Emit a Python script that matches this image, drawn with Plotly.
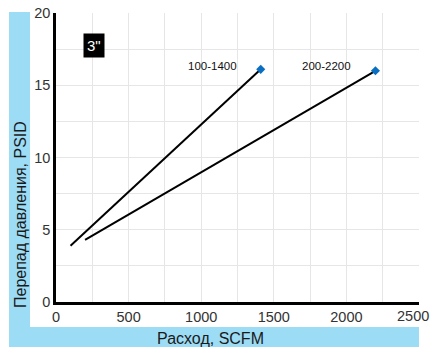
import plotly.graph_objects as go

# Pressure drop vs. flow for two 3" models
series_names = ["100-1400", "200-2200"]
flow_100_1400 = [100, 1410]
psid_100_1400 = [3.9, 16.1]
flow_200_2200 = [200, 2200]
psid_200_2200 = [4.3, 16.0]

x_ticks = [0, 500, 1000, 1500, 2000, 2500]
x_tick_labels = ["0", "500", "1000", "1500", "2000", "2500"]
y_ticks = [0, 5, 10, 15, 20]

FONT = "Liberation Sans, Arial, sans-serif"
BAND = "#9ddcf5"
MARK = "#0a6fc2"


def font(size, color):
    return dict(family=FONT, size=size, color=color)


fig = go.Figure()
for xs, ys in [(flow_100_1400, psid_100_1400), (flow_200_2200, psid_200_2200)]:
    fig.add_trace(go.Scatter(
        x=xs, y=ys, mode="lines", line=dict(color="black", width=2),
        showlegend=False, hoverinfo="skip"))
    fig.add_trace(go.Scatter(
        x=[xs[-1]], y=[ys[-1]], mode="markers",
        marker=dict(symbol="diamond", size=7, color=MARK),
        showlegend=False))

# Series labels
fig.add_annotation(x=1080, y=16.35, text=series_names[0], showarrow=False,
                   font=font(11.5, "#111"))
fig.add_annotation(x=1860, y=16.35, text=series_names[1], showarrow=False,
                   font=font(11.5, "#111"))

# Pipe size tag
fig.add_annotation(x=265, y=17.75, text='3"', showarrow=False,
                   bgcolor="black", borderpad=3,
                   font=font(15, "white"))

# Light blue title bands
fig.add_shape(type="rect", xref="paper", yref="paper",
              x0=(9 - 56) / 363, x1=(30 - 56) / 363,
              y0=(302 - 347) / 289, y1=(302 - 12) / 289,
              fillcolor=BAND, line_width=0, layer="below")
fig.add_shape(type="rect", xref="paper", yref="paper",
              x0=(9 - 56) / 363, x1=(419 - 56) / 363,
              y0=(302 - 347) / 289, y1=(302 - 327) / 289,
              fillcolor=BAND, line_width=0, layer="below")

# Axis titles
fig.add_annotation(xref="paper", yref="paper",
                   x=(210 - 56) / 363, y=(302 - 338) / 289,
                   xanchor="center", yanchor="middle",
                   text="Расход, SCFM", showarrow=False,
                   font=font(16, "#1a1a1a"))
fig.add_annotation(xref="paper", yref="paper",
                   x=(20 - 56) / 363, y=(302 - 215) / 289,
                   xanchor="center", yanchor="middle",
                   text="Перепад давления, PSID", showarrow=False, textangle=-90,
                   font=font(16, "#1a1a1a"))

# The last x tick label is right-aligned so it stays inside the figure
fig.add_annotation(xref="x", yref="paper", x=x_ticks[-1], y=(302 - 316) / 289,
                   xanchor="right", yanchor="middle", xshift=12,
                   text=x_tick_labels[-1], showarrow=False,
                   font=font(14.5, "#333"))

fig.update_xaxes(range=[0, 2500], tickvals=x_ticks,
                 ticktext=x_tick_labels[:-1] + [""],
                 showgrid=True, gridcolor="#e6e6e6", gridwidth=1,
                 minor=dict(dtick=250, showgrid=True, gridcolor="#e6e6e6"),
                 showline=True, linecolor="black", linewidth=2.5,
                 ticks="", zeroline=False, ticklabeloverflow="allow",
                 tickfont=font(14.5, "#333"))
fig.update_yaxes(range=[0, 20], tickvals=y_ticks,
                 showgrid=True, gridcolor="#e6e6e6", gridwidth=1,
                 minor=dict(dtick=2.5, showgrid=True, gridcolor="#e6e6e6"),
                 showline=True, linecolor="black", linewidth=2.5,
                 ticks="", zeroline=False, ticklabeloverflow="allow",
                 tickfont=font(14.5, "#333"))

fig.update_layout(width=431, height=351,
                  margin=dict(l=56, r=12, t=13, b=49, autoexpand=False),
                  paper_bgcolor="white", plot_bgcolor="white")

fig.write_html("out.html")
